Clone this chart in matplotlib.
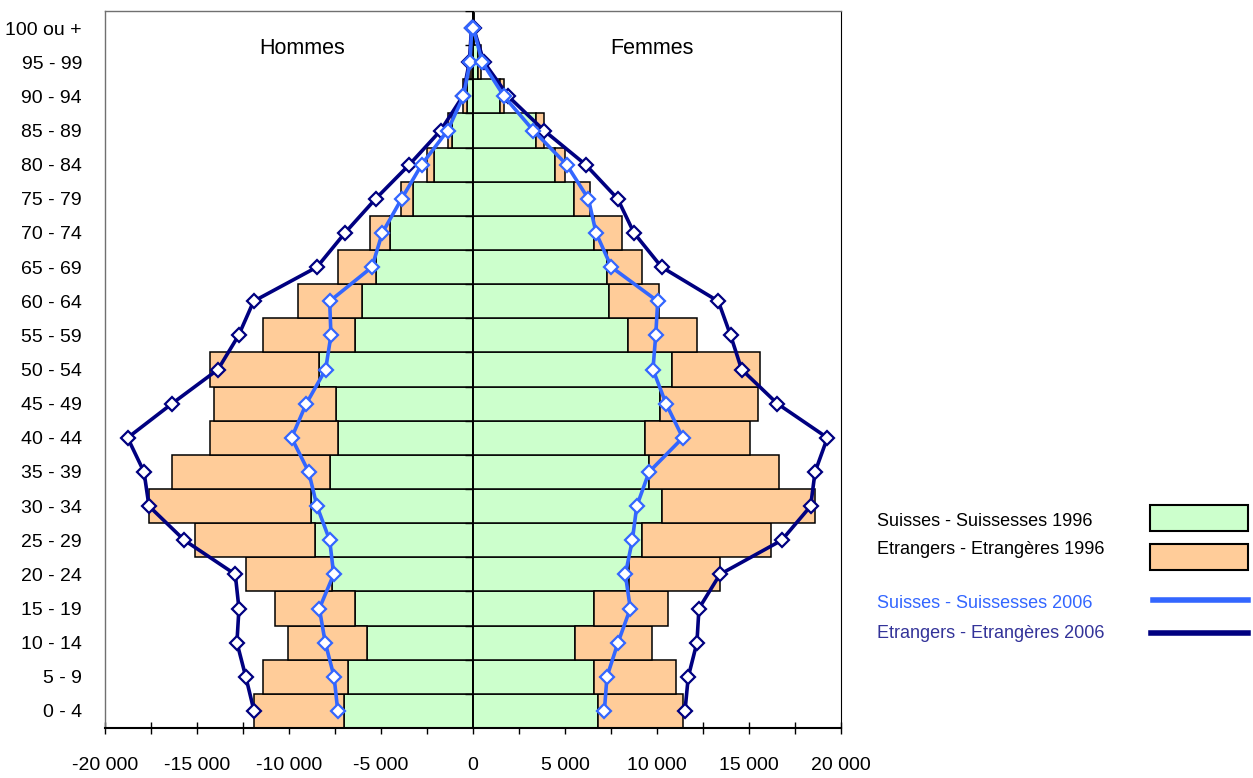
import matplotlib
matplotlib.use("Agg")
import matplotlib.pyplot as plt
import numpy as np
from matplotlib.patches import Rectangle
from matplotlib.lines import Line2D
from matplotlib.ticker import MultipleLocator, FuncFormatter

# ---------------- data ----------------
age_groups = ["0 - 4", "5 - 9", "10 - 14", "15 - 19", "20 - 24", "25 - 29", "30 - 34",
              "35 - 39", "40 - 44", "45 - 49", "50 - 54", "55 - 59", "60 - 64", "65 - 69",
              "70 - 74", "75 - 79", "80 - 84", "85 - 89", "90 - 94", "95 - 99", "100 ou +"]

# 1996 bars (stacked: Suisses, then Etrangers on top)
hommes_suisses_1996 = [7010, 6780, 5740, 6410, 7650, 8600, 8800, 7770, 7350, 7460, 8350,
                       6410, 6050, 5270, 4510, 3240, 2100, 1120, 340, 70, 10]
hommes_etrangers_1996 = [4890, 4650, 4330, 4350, 4700, 6510, 8810, 8570, 6940, 6600, 5940,
                         5020, 3440, 2050, 1090, 670, 420, 260, 185, 110, 10]
femmes_suisses_1996 = [6810, 6590, 5560, 6590, 8500, 9200, 10250, 9570, 9350, 10160, 10830,
                       8410, 7390, 7300, 6590, 5490, 4460, 3410, 1470, 270, 30]
femmes_etrangers_1996 = [4590, 4440, 4150, 4010, 4920, 7000, 8340, 7080, 5700, 5350, 4770,
                         3780, 2740, 1900, 1490, 870, 540, 450, 220, 165, 20]

# 2006 lines (cumulative positions as plotted)
hommes_suisses_2006 = [7350, 7550, 8030, 8350, 7570, 7790, 8480, 8930, 9860, 9060, 8010,
                       7720, 7790, 5490, 4930, 3880, 2790, 1380, 520, 160, 70]
hommes_etrangers_2006 = [11900, 12350, 12830, 12720, 12920, 15690, 17610, 17880, 18770, 16360,
                         13860, 12740, 11920, 8480, 6960, 5290, 3460, 1760, 560, 200, 80]
femmes_suisses_2006 = [7140, 7280, 7880, 8550, 8280, 8660, 8900, 9570, 11400, 10490, 9780,
                       9930, 10040, 7520, 6690, 6270, 5090, 3280, 1690, 500, 20]
femmes_etrangers_2006 = [11520, 11700, 12170, 12280, 13420, 16780, 18350, 18590, 19260, 16540,
                         14600, 14000, 13330, 10250, 8750, 7860, 6120, 3860, 1920, 600, 30]

legend_labels = ["Suisses - Suissesses 1996", "Etrangers - Etrangères 1996",
                 "Suisses - Suissesses 2006", "Etrangers - Etrangères 2006"]

# ---------------- style ----------------
GREEN = "#CCFFCC"
ORANGE = "#FFCC99"
LBLUE = "#3366FF"
DBLUE = "#000080"
plt.rcParams["font.family"] = ["Liberation Sans", "DejaVu Sans"]

W, H = 1253, 778
fig = plt.figure(figsize=(W / 100, H / 100), dpi=100)
ax = fig.add_axes([105 / W, (H - 728) / H, 736 / W, 717 / H])

y = np.arange(len(age_groups))
hs = np.array(hommes_suisses_1996)
he = np.array(hommes_etrangers_1996)
fs = np.array(femmes_suisses_1996)
fe = np.array(femmes_etrangers_1996)

bar_kw = dict(height=1.0, edgecolor="black", linewidth=1.1, zorder=2)
ax.barh(y, -hs, color=GREEN, **bar_kw)
ax.barh(y, -he, left=-hs, color=ORANGE, **bar_kw)
ax.barh(y, fs, color=GREEN, **bar_kw)
ax.barh(y, fe, left=fs, color=ORANGE, **bar_kw)

# central category axis line with boundary ticks
ax.axvline(0, color="black", linewidth=1.3, zorder=3)
bounds = np.arange(len(age_groups) + 1) - 0.5
ax.hlines(bounds, -430, 0, color="black", linewidth=1.0, zorder=3)

line_kw = dict(marker="D", markersize=7.5, markerfacecolor="white",
               markeredgewidth=1.6, linewidth=2.6, zorder=4)
ax.plot(-np.array(hommes_etrangers_2006), y, color=DBLUE, markeredgecolor=DBLUE, **line_kw)
ax.plot(np.array(femmes_etrangers_2006), y, color=DBLUE, markeredgecolor=DBLUE, **line_kw)
ax.plot(-np.array(hommes_suisses_2006), y, color=LBLUE, markeredgecolor=LBLUE, **line_kw)
ax.plot(np.array(femmes_suisses_2006), y, color=LBLUE, markeredgecolor=LBLUE, **line_kw)

ax.set_xlim(-20000, 20000)
ax.set_ylim(-0.5, len(age_groups) - 0.5)

ax.xaxis.set_major_locator(MultipleLocator(5000))
ax.xaxis.set_minor_locator(MultipleLocator(2500))
ax.xaxis.set_major_formatter(FuncFormatter(lambda v, p: f"{int(v):,}".replace(",", " ")))
ax.tick_params(axis="x", which="both", direction="inout", length=8, width=1.0,
               labelsize=14, pad=17, color="black")
ax.set_yticks(y)
ax.set_yticklabels(age_groups)
ax.tick_params(axis="y", length=0, labelsize=14, pad=16.5)

for s in ["left", "top"]:
    ax.spines[s].set_color("#707070")
    ax.spines[s].set_linewidth(1.0)
ax.spines["right"].set_color("black")
ax.spines["bottom"].set_color("black")
ax.spines["bottom"].set_linewidth(1.5)

ax.text(-9300, 19.4, "Hommes", fontsize=15.5, ha="center", va="center")
ax.text(9700, 19.4, "Femmes", fontsize=15.5, ha="center", va="center")

# ---------------- custom legend ----------------
def fx(px):
    return px / W

def fy(py):
    return 1 - py / H

text_colors = ["black", "black", LBLUE, "#333399"]
text_y = [521, 550, 604, 633]
for lab, col, ty in zip(legend_labels, text_colors, text_y):
    fig.text(fx(877), fy(ty), lab, color=col, fontsize=13, ha="left", va="center")

fig.patches.append(Rectangle((fx(1150), fy(531)), fx(98), 26 / H, transform=fig.transFigure,
                             facecolor=GREEN, edgecolor="black", linewidth=1.5))
fig.patches.append(Rectangle((fx(1150), fy(570)), fx(98), 26 / H, transform=fig.transFigure,
                             facecolor=ORANGE, edgecolor="black", linewidth=1.5))
fig.lines.append(Line2D([fx(1153), fx(1248)], [fy(600), fy(600)], transform=fig.transFigure,
                        color=LBLUE, linewidth=4))
fig.lines.append(Line2D([fx(1151), fx(1248)], [fy(633), fy(633)], transform=fig.transFigure,
                        color=DBLUE, linewidth=4))

fig.savefig("out.png", dpi=100)
